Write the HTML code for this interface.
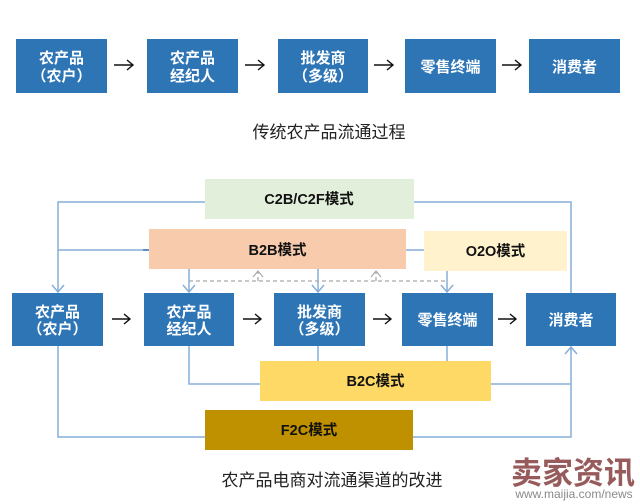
<!DOCTYPE html>
<html><head><meta charset="utf-8">
<style>
html,body{margin:0;padding:0;background:#fff;}
svg{display:block;}
.bx{fill:#2e75b6;}
.wt{fill:#fff;font-family:"Liberation Sans","Noto Sans CJK SC",sans-serif;font-size:15px;font-weight:bold;text-anchor:middle;}
.md{fill:#111;font-family:"Liberation Sans","Noto Sans CJK SC",sans-serif;font-size:14.5px;font-weight:bold;text-anchor:middle;}
.cap{fill:#222;font-family:"Liberation Sans","Noto Sans CJK SC",sans-serif;font-size:17px;text-anchor:middle;}
.ln{stroke:#86aed8;stroke-width:1.5;fill:none;}
.ar{stroke:#111;stroke-width:1.4;fill:none;}
.ds{stroke:#a9a9a9;stroke-width:1.3;fill:none;stroke-dasharray:4 3;}
</style></head>
<body>
<svg width="640" height="504" viewBox="0 0 640 504" xmlns="http://www.w3.org/2000/svg">
<!-- Top row -->
<rect class="bx" x="16" y="39" width="91" height="54"/>
<rect class="bx" x="147" y="39" width="91" height="54"/>
<rect class="bx" x="278" y="39" width="90" height="54"/>
<rect class="bx" x="405" y="39" width="91" height="54"/>
<rect class="bx" x="529" y="39" width="91" height="54"/>
<text class="wt" x="61.5" y="63">农产品</text>
<text class="wt" x="61.5" y="81">（农户）</text>
<text class="wt" x="192.5" y="63">农产品</text>
<text class="wt" x="192.5" y="81">经纪人</text>
<text class="wt" x="323" y="63">批发商</text>
<text class="wt" x="323" y="81">（多级）</text>
<text class="wt" x="450.5" y="72">零售终端</text>
<text class="wt" x="574.5" y="72">消费者</text>
<!-- top arrows -->
<g class="ar">
<path d="M114 65 H133 M127 60 L133 65 L127 70"/>
<path d="M245 65 H264 M258 60 L264 65 L258 70"/>
<path d="M374 65 H393 M387 60 L393 65 L387 70"/>
<path d="M502 65 H521 M515 60 L521 65 L515 70"/>
</g>
<text class="cap" x="329" y="138">传统农产品流通过程</text>

<!-- Mode boxes -->
<rect x="205" y="179" width="209" height="40" fill="#e2efda"/>
<text class="md" x="309" y="204">C2B/C2F模式</text>
<rect x="149" y="229" width="257" height="40" fill="#f8cbad"/>
<text class="md" x="277.5" y="255">B2B模式</text>
<rect x="424" y="231" width="143" height="40" fill="#fff2cc"/>
<text class="md" x="495.5" y="256">O2O模式</text>

<!-- connectors top -->
<path class="ln" d="M205 202 H58 V291"/>
<path class="ln" d="M52 285 L58 292 L64 285"/>
<path class="ln" d="M58 250 H149"/>
<path d="M143 250 H149" stroke="#5f8fc0" stroke-width="2"/>
<path class="ln" d="M414 202 H571 V293"/>
<path class="ln" d="M406 250 H424"/>
<path class="ln" d="M189 269 V292 M183 285 L189 292 L195 285"/>
<path class="ln" d="M318 269 V292 M312 285 L318 292 L324 285"/>
<path class="ln" d="M447 271 V292 M441 285 L447 292 L453 285"/>
<path class="ds" d="M189 281 H447"/>
<path class="ds" d="M258 281 V271" stroke-dasharray="none"/>
<path d="M253 277 L258 271 L263 277" stroke="#a9a9a9" stroke-width="1.2" fill="none"/>
<path class="ds" d="M376 281 V271" stroke-dasharray="none"/>
<path d="M371 277 L376 271 L381 277" stroke="#a9a9a9" stroke-width="1.2" fill="none"/>

<!-- Bottom row -->
<rect class="bx" x="12" y="293" width="91" height="53"/>
<rect class="bx" x="144" y="293" width="90" height="53"/>
<rect class="bx" x="274" y="293" width="91" height="53"/>
<rect class="bx" x="402" y="293" width="91" height="53"/>
<rect class="bx" x="526" y="293" width="90" height="53"/>
<text class="wt" x="57.5" y="317">农产品</text>
<text class="wt" x="57.5" y="334">（农户）</text>
<text class="wt" x="189" y="317">农产品</text>
<text class="wt" x="189" y="334">经纪人</text>
<text class="wt" x="319.5" y="317">批发商</text>
<text class="wt" x="319.5" y="334">（多级）</text>
<text class="wt" x="447.5" y="325">零售终端</text>
<text class="wt" x="571" y="325">消费者</text>
<g class="ar">
<path d="M112 319 H130 M124 314 L130 319 L124 324"/>
<path d="M243 319 H261 M255 314 L261 319 L255 324"/>
<path d="M373 319 H391 M385 314 L391 319 L385 324"/>
<path d="M498 319 H516 M510 314 L516 319 L510 324"/>
</g>

<!-- Bottom connectors -->
<path class="ln" d="M58 346 V437 H205"/>
<path class="ln" d="M189 346 V384 H260"/>
<path class="ln" d="M318 346 V361"/>
<path class="ln" d="M447 346 V361"/>
<path class="ln" d="M491 384 H571"/>
<path class="ln" d="M413 437 H571 V347"/>
<path class="ln" d="M565 354 L571 347 L577 354"/>

<rect x="260" y="361" width="231" height="40" fill="#ffd966"/>
<text class="md" x="375.5" y="386">B2C模式</text>
<rect x="205" y="410" width="208" height="40" fill="#bf9000"/>
<text class="md" x="309" y="435">F2C模式</text>

<text class="cap" x="332" y="486">农产品电商对流通渠道的改进</text>

<!-- watermark -->
<text x="573" y="484" fill="#8c4a4a" font-family="'Noto Sans CJK SC','WenQuanYi Zen Hei',sans-serif" font-size="31" font-weight="bold" text-anchor="middle" opacity="0.9">卖家资讯</text>
<text x="574" y="498" fill="#8a8a8a" font-family="'Liberation Sans',sans-serif" font-size="12" text-anchor="middle">www.maijia.com/news</text>
</svg>
</body></html>
